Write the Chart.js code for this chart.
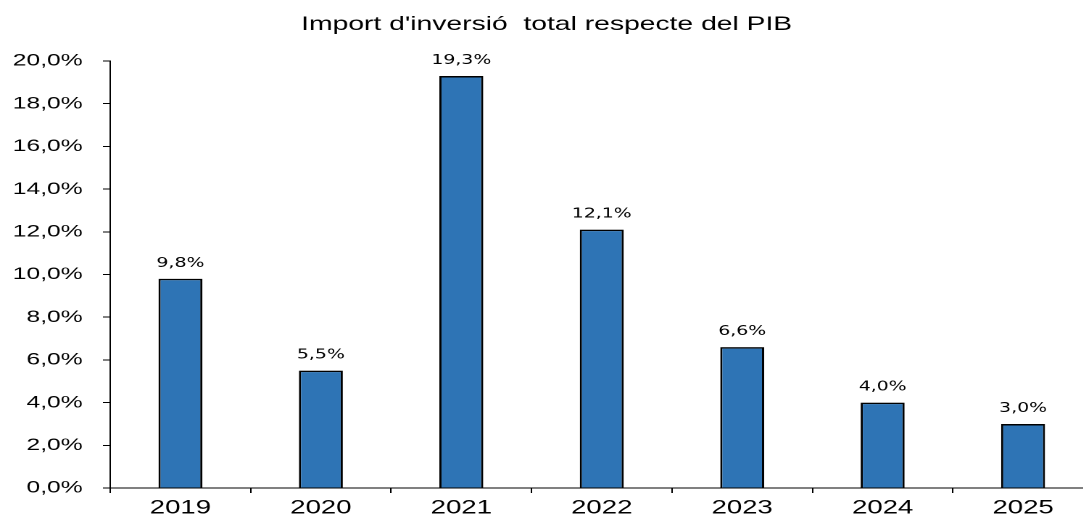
<!DOCTYPE html>
<html>
<head>
<meta charset="utf-8">
<script src="https://cdn.jsdelivr.net/npm/chart.js@4"></script>
<style>
  body { margin: 0; background: #fff; }
  #wrap { width: 1083px; height: 516px; overflow: hidden; }
  #inner { width: 754px; height: 516px; transform: scaleX(1.45); transform-origin: 0 0; }
</style>
</head>
<body>
<div id="wrap"><div id="inner"><canvas id="invChart" width="754" height="516"></canvas></div></div>
<script>
// Data
var years = ['2019', '2020', '2021', '2022', '2023', '2024', '2025'];
var shareOfGdp = [9.8, 5.5, 19.3, 12.1, 6.6, 4.0, 3.0];
var yTicks = [0, 2, 4, 6, 8, 10, 12, 14, 16, 18, 20];

function pct(v) {
    return v.toFixed(1).replace('.', ',') + '%';
}

// draws the value above each bar
var barLabels = {
    id: 'barLabels',
    afterDatasetsDraw: function (chart) {
        var ctx = chart.ctx;
        var meta = chart.getDatasetMeta(0);
        ctx.save();
        ctx.font = '13px "DejaVu Sans"';
        ctx.fillStyle = '#000';
        ctx.textAlign = 'center';
        ctx.textBaseline = 'alphabetic';
        meta.data.forEach(function (bar, i) {
            ctx.fillText(pct(shareOfGdp[i]), bar.x, bar.y - 12);
        });
        ctx.restore();
    }
};

var ctx = document.getElementById('invChart').getContext('2d');
var invChart = new Chart(ctx, {
    type: 'bar',
    data: {
        labels: years,
        datasets: [{
            data: shareOfGdp,
            backgroundColor: '#2E74B5',
            borderColor: '#000',
            borderWidth: 1.5,
            barPercentage: 0.313,
            categoryPercentage: 1
        }]
    },
    options: {
        responsive: false,
        animation: false,
        devicePixelRatio: 2,
        layout: { padding: 0 },
        plugins: {
            legend: { display: false },
            tooltip: { enabled: false },
            title: {
                display: true,
                text: "Import d'inversió  total respecte del PIB",
                color: '#000',
                font: { family: '"Liberation Sans", Arial', size: 19.5, weight: 'normal' },
                padding: { top: 13, bottom: 24.6 }
            }
        },
        scales: {
            x: {
                grid: {
                    display: true,
                    offset: true,
                    drawOnChartArea: false,
                    tickLength: 5,
                    color: '#000'
                },
                border: { color: '#000', width: 1 },
                ticks: {
                    color: '#000',
                    padding: 4,
                    font: { family: '"Liberation Sans", Arial', size: 19 }
                },
                afterFit: function (scale) { scale.height = 28; }
            },
            y: {
                min: 0,
                max: 20,
                afterBuildTicks: function (scale) {
                    scale.ticks = yTicks.map(function (v) { return { value: v }; });
                },
                grid: {
                    display: true,
                    drawOnChartArea: false,
                    tickLength: 5,
                    color: '#000'
                },
                border: { color: '#000', width: 1 },
                ticks: {
                    color: '#000',
                    padding: 14,
                    font: { family: '"Liberation Sans", Arial', size: 17 },
                    callback: function (v) { return pct(v); }
                },
                afterFit: function (scale) { scale.width = 76; }
            }
        }
    },
    plugins: [barLabels]
});
</script>
</body>
</html>
